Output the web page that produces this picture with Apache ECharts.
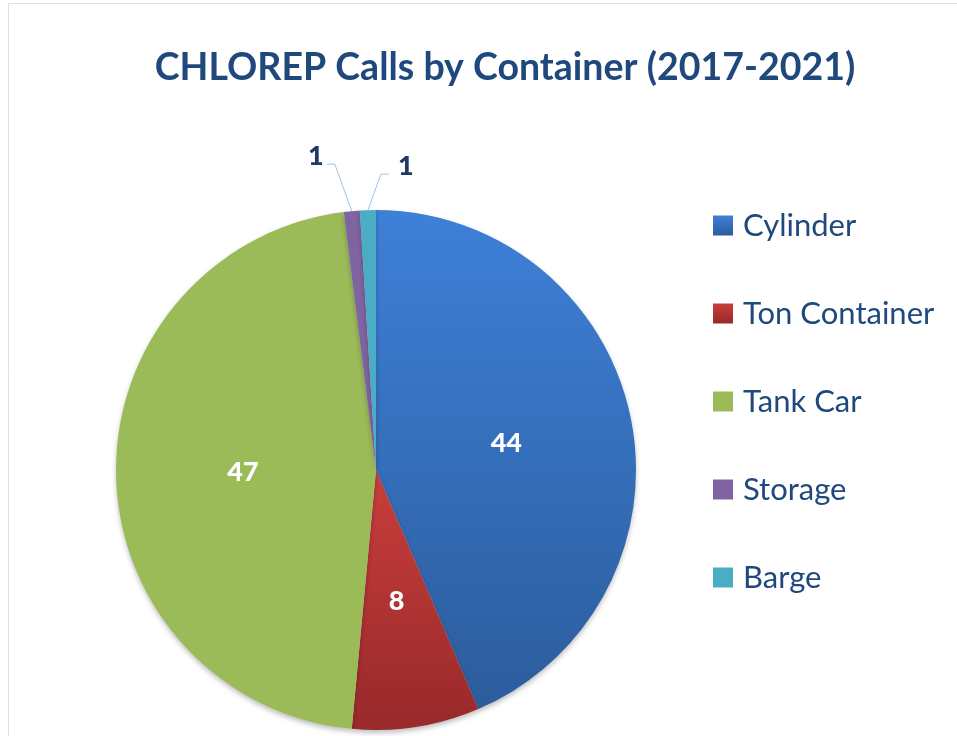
<!DOCTYPE html>
<html>
<head>
<meta charset="utf-8">
<script src="https://cdn.jsdelivr.net/npm/echarts@6/dist/echarts.min.js"></script>
<style>
  html, body { margin: 0; padding: 0; background: #fff; }
  #chart { width: 957px; height: 736px; }
</style>
</head>
<body>
<div id="chart"></div>
<script>
const categories = ['Cylinder', 'Ton Container', 'Tank Car', 'Storage', 'Barge'];
const calls = [44, 8, 47, 1, 1];

// top / bottom colour of each slice (Excel style vertical shading)
const sliceColors = [
  ['#3e80d8', '#2c5c9c'],
  ['#c93e3c', '#98292a'],
  ['#9bbb59', '#9bbb59'],
  ['#8064a2', '#8064a2'],
  ['#4bacc6', '#4bacc6'],
];

const chart = echarts.init(document.getElementById('chart'));

const data = categories.map((name, i) => {
  const small = calls[i] < 3;
  return {
    name,
    value: calls[i],
    itemStyle: {
      color: new echarts.graphic.LinearGradient(0, 0, 0, 1, [
        { offset: 0, color: sliceColors[i][0] },
        { offset: 1, color: sliceColors[i][1] },
      ]),
    },
    label: {
      position: small ? 'outside' : 'inside',
      color: small ? '#1f3864' : '#ffffff',
      fontFamily: 'Lato',
      fontWeight: 900,
      fontSize: 27,
    },
    labelLine: small ? {
      show: true,
      lineStyle: { color: '#9dc3e6', width: 1 },
    } : { show: false },
  };
});

// the two tiny slices get their callouts pulled apart like the excel chart
// (storage to the upper left, barge to the upper right)
const callouts = {
  3: { dx: -17, dy: -47, tail: -8, align: 'right' },
  4: { dx: 13, dy: -36, tail: 8, align: 'left' },
};

chart.setOption({
  animation: false,
  title: {
    text: 'CHLOREP Calls by Container (2017-2021)',
    left: 500,
    textAlign: 'center',
    top: 44,
    textStyle: {
      fontFamily: 'Lato',
      fontWeight: 'bold',
      fontSize: 37.5,
      color: '#1f497d',
    },
  },
  legend: {
    orient: 'vertical',
    left: 713,
    top: 210,
    padding: 0,
    icon: 'rect',
    itemWidth: 20,
    itemHeight: 20,
    itemGap: 57,
    data: categories,
    textStyle: {
      fontFamily: 'Lato',
      fontSize: 31,
      color: '#1f497d',
      padding: [0, 0, 0, 5],
    },
  },
  graphic: [{
    type: 'rect',
    shape: { x: 8.5, y: 3.5, width: 980, height: 760 },
    style: { fill: 'none', stroke: '#d6e0ee', lineWidth: 1 },
    silent: true,
  }],
  series: [{
    type: 'pie',
    center: [376, 470],
    radius: 260,
    startAngle: 90,
    clockwise: true,
    avoidLabelOverlap: false,
    label: { show: true, formatter: '{c}' },
    labelLayout: (params) => {
      const c = callouts[params.dataIndex];
      if (!c || !params.labelLinePoints) return {};
      const p0 = params.labelLinePoints[0];
      const p1 = [p0[0] + c.dx, p0[1] + c.dy];
      const p2 = [p1[0] + c.tail, p1[1]];
      return {
        x: p2[0] + (c.align === 'right' ? -3 : 9),
        y: p2[1] + 6,
        align: c.align,
        verticalAlign: 'bottom',
        labelLinePoints: [p0, p1, p2],
      };
    },
    itemStyle: {
      shadowBlur: 5,
      shadowOffsetY: 3,
      shadowColor: 'rgba(0,0,0,0.25)',
    },
    emphasis: { disabled: true },
    data,
  }],
});
</script>
</body>
</html>
